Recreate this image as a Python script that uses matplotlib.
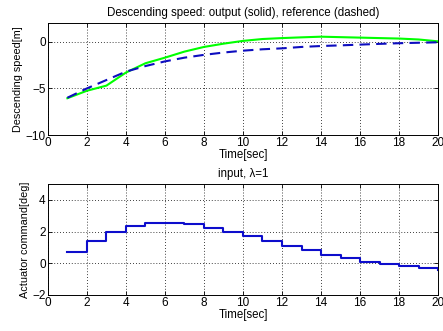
import matplotlib
matplotlib.use("Agg")
import matplotlib.pyplot as plt
import numpy as np

plt.rcParams['font.family'] = ['Liberation Sans', 'DejaVu Sans']

t = [1, 2, 3, 4, 5, 6, 7, 8, 9, 10, 11, 12, 13, 14, 15, 16, 17, 18, 19, 20]
output_speed = [-6.05, -5.25, -4.7, -3.3, -2.3, -1.7, -1.05, -0.55, -0.2, 0.1, 0.3, 0.4, 0.48, 0.55, 0.5, 0.45, 0.4, 0.35, 0.25, 0.05]
reference_speed = [-6.0, -5.0, -4.1, -3.2, -2.6, -2.1, -1.7, -1.4, -1.15, -0.95, -0.8, -0.7, -0.55, -0.45, -0.38, -0.3, -0.22, -0.15, -0.1, -0.05]
actuator = [0.74, 1.38, 2.0, 2.36, 2.55, 2.53, 2.45, 2.23, 2.0, 1.74, 1.43, 1.1, 0.83, 0.53, 0.32, 0.1, -0.06, -0.19, -0.32, -0.43]

fig = plt.figure(figsize=(4.43, 3.31), dpi=100)
fs = 8.3

ax1 = fig.add_axes([0.108, 0.592, 0.881, 0.338])
ax1.plot(t, output_speed, color=(0, 1, 0), lw=1.5)
ax1.plot(t, reference_speed, color=(0.05, 0.05, 0.75), lw=1.5, dashes=(5, 3))
ax1.set_xlim(0, 20)
ax1.set_ylim(-10, 2)
ax1.set_xticks(range(0, 21, 2))
ax1.set_yticks([-10, -5, 0])
ax1.set_title('Descending speed: output (solid), reference (dashed)', fontsize=fs, pad=5)
ax1.set_xlabel('Time[sec]', fontsize=fs, labelpad=0)
ax1.set_ylabel('Descending speed[m]', fontsize=7.8, labelpad=2)

ax2 = fig.add_axes([0.108, 0.109, 0.881, 0.335])
ax2.step(t, actuator, where='post', color=(0.05, 0.05, 0.8), lw=1.5)
ax2.set_xlim(0, 20)
ax2.set_ylim(-2, 5)
ax2.set_xticks(range(0, 21, 2))
ax2.set_yticks([-2, 0, 2, 4])
ax2.set_title('input, λ=1', fontsize=fs, pad=5)
ax2.set_xlabel('Time[sec]', fontsize=fs, labelpad=0)
ax2.set_ylabel('Actuator command[deg]', fontsize=7.8, labelpad=2)

for ax in (ax1, ax2):
    ax.grid(True, color='black', linestyle=(0, (1, 2.5)), lw=0.6)
    ax.tick_params(direction='in', length=3, width=0.6, labelsize=8.5, top=True, right=True, pad=1.5)
    for s in ax.spines.values():
        s.set_linewidth(0.7)

fig.savefig('out.png', dpi=100)
